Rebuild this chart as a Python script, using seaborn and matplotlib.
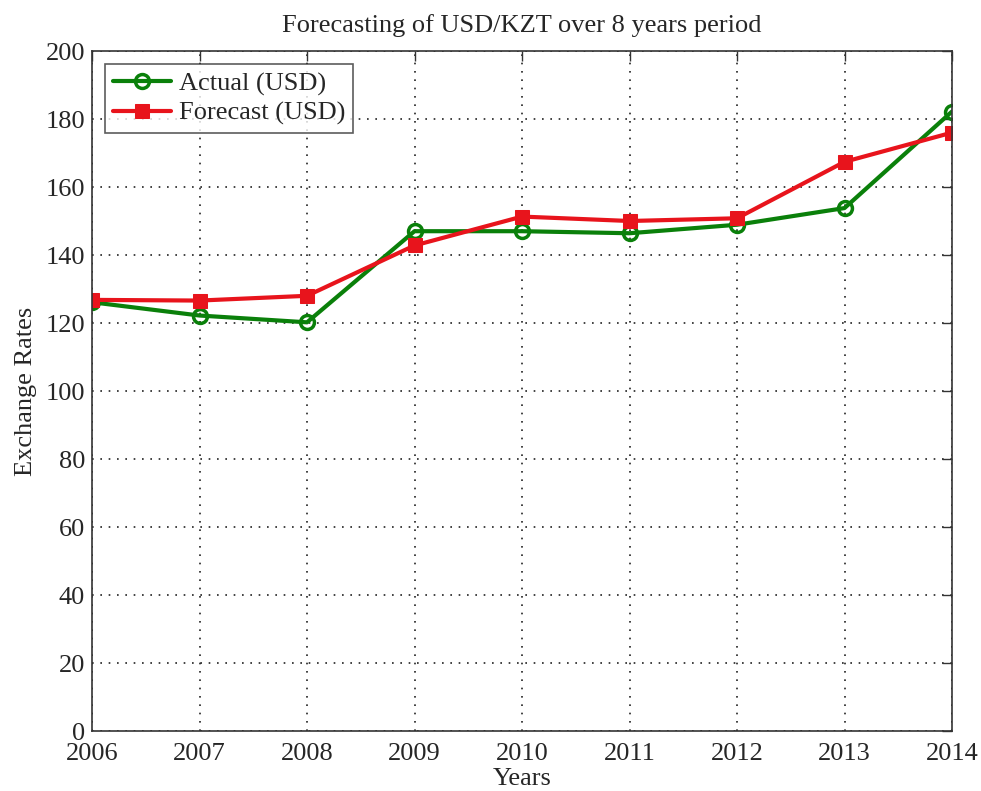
import matplotlib
matplotlib.use("Agg")
import matplotlib.pyplot as plt
import pandas as pd
import seaborn as sns

years = [2006, 2007, 2008, 2009, 2010, 2011, 2012, 2013, 2014]
actual_usd = [126.1, 122.2, 120.2, 147.0, 147.0, 146.4, 148.9, 153.8, 182.2]
forecast_usd = [126.8, 126.6, 128.0, 142.8, 151.3, 150.0, 150.8, 167.4, 176.0]

title = "Forecasting of USD/KZT over 8 years period"
x_label = "Years"
y_label = "Exchange Rates"
y_ticks = list(range(0, 201, 20))

sns.set_style("white")
plt.rcParams["font.family"] = ["Liberation Serif", "DejaVu Serif"]

df = pd.DataFrame({"year": years, "actual": actual_usd, "forecast": forecast_usd})

fig = plt.figure(figsize=(9.81, 7.91), dpi=100)
ax = fig.add_axes([92 / 981, 1 - 731 / 791, 860 / 981, 680 / 791])

sns.lineplot(data=df, x="year", y="actual", ax=ax, color="#0a800a", lw=3,
             marker="o", markersize=10, markerfacecolor="none",
             markeredgecolor="#0a800a", markeredgewidth=2.5, label="Actual (USD)")
sns.lineplot(data=df, x="year", y="forecast", ax=ax, color="#e8141c", lw=3,
             marker="s", markersize=10, markerfacecolor="#e8141c",
             markeredgecolor="#e8141c", label="Forecast (USD)")

ax.set_xlim(2006, 2014)
ax.set_ylim(0, 200)
ax.set_xticks(years)
ax.set_yticks(y_ticks)
ax.tick_params(direction="in", length=7, width=1, labelsize=19, color="#333333",
               top=True, right=True)
ax.tick_params(axis="x", pad=9)
ax.tick_params(axis="y", pad=5)
ax.grid(True, linestyle=(0, (1, 4)), color="#222222", lw=1.2)
for s in ax.spines.values():
    s.set_color("#333333")
    s.set_linewidth(1.2)

ax.set_title(title, fontsize=19, pad=14)
ax.set_xlabel(x_label, fontsize=19, labelpad=2)
ax.set_ylabel(y_label, fontsize=19, labelpad=6)

leg = ax.legend(loc="upper left", fontsize=19, frameon=True, fancybox=False,
                borderpad=0.3, handlelength=2.2, handletextpad=0.3,
                labelspacing=0.2, borderaxespad=0.5)
leg.get_frame().set_edgecolor("#333333")
leg.get_frame().set_linewidth(1.2)

fig.savefig("out.png", dpi=100)
